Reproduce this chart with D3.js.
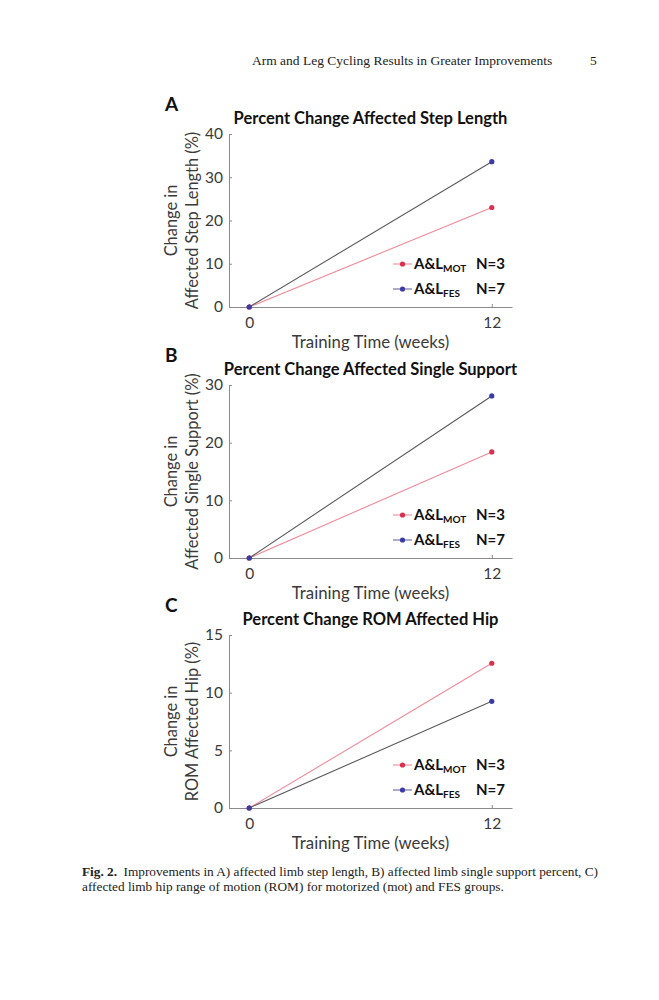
<!DOCTYPE html>
<html>
<head>
<meta charset="utf-8">
<script src="https://cdn.jsdelivr.net/npm/d3@7"></script>
<style>
    body { margin: 0; background: #fff; }
    svg { display: block; }
</style>
</head>
<body>
<div id="main"></div>
<script>
"use strict";

// data
const weeks = [0, 12];
const xTickLabels = [0, 12];
const panelLetters = ["A", "B", "C"];
const panelTitles = [
    "Percent Change Affected Step Length",
    "Percent Change Affected Single Support",
    "Percent Change ROM Affected Hip"
];
const yLabelLines = [
    ["Change in", "Affected Step Length (%)"],
    ["Change in", "Affected Single Support (%)"],
    ["Change in", "ROM Affected Hip (%)"]
];
const yMaxValues = [40, 30, 15];
const yTickValues = [
    [0, 10, 20, 30, 40],
    [0, 10, 20, 30],
    [0, 5, 10, 15]
];
const motValues = [
    [0, 23.0],
    [0, 18.4],
    [0, 12.55]
];
const fesValues = [
    [0, 33.6],
    [0, 28.1],
    [0, 9.25]
];
const legendNames = ["MOT", "FES"];
const legendCounts = ["N=3", "N=7"];

const headerText = "Arm and Leg Cycling Results in Greater Improvements";
const pageNumber = "5";
const captionBold = "Fig. 2.";
const captionLine1 = "Improvements in A) affected limb step length, B) affected limb single support percent, C)";
const captionLine2 = "affected limb hip range of motion (ROM) for motorized (mot) and FES groups.";

const params = {
    width: 659,
    height: 1000,
    axisLeft: 229,
    axisRight: 512,
    panelTops: [134, 385, 635],
    panelHeight: 173
};

const colors = {
    motLine: "#f28a9a",
    motMarker: "#d9304f",
    fesLine: "#5a5a5e",
    fesLegendLine: "#6a6a9a",
    fesMarker: "#3b3ba6",
    axis: "#8a8a8a",
    text: "#3a3a3a"
};

const sansFont = "Lato, 'Open Sans', sans-serif";
const serifFont = "'Liberation Serif', 'DejaVu Serif', serif";

const svg = d3.select("#main").append("svg")
    .attr("width", params.width)
    .attr("height", params.height);

// running header
svg.append("text")
    .attr("x", 252).attr("y", 65)
    .attr("font-family", serifFont).attr("font-size", 13.5)
    .attr("fill", "#222")
    .text(headerText);
svg.append("text")
    .attr("x", 590).attr("y", 65)
    .attr("font-family", serifFont).attr("font-size", 13.5)
    .attr("fill", "#222")
    .text(pageNumber);

function drawPanel(i) {
    const top = params.panelTops[i];
    const bottom = top + params.panelHeight;

    const x = d3.scaleLinear().domain([-1, 13]).range([params.axisLeft, params.axisRight]);
    const y = d3.scaleLinear().domain([0, yMaxValues[i]]).range([bottom, top]);

    const g = svg.append("g");

    // axes, MATLAB style: inward ticks, no box
    const xAxis = d3.axisBottom(x).tickValues(xTickLabels).tickSizeInner(-3).tickSizeOuter(0).tickPadding(10);
    const yAxis = d3.axisLeft(y).tickValues(yTickValues[i]).tickSizeInner(-3).tickSizeOuter(0).tickPadding(6);

    const gx = g.append("g").attr("transform", `translate(0,${bottom})`).call(xAxis);
    const gy = g.append("g").attr("transform", `translate(${params.axisLeft},0)`).call(yAxis);
    [gx, gy].forEach(a => {
        a.select(".domain").attr("stroke", colors.axis);
        a.selectAll(".tick line").attr("stroke", colors.axis);
        a.selectAll(".tick text")
            .attr("font-family", sansFont).attr("font-size", 15.5)
            .attr("fill", colors.text);
    });

    // panel letter and title
    g.append("text")
        .attr("x", 165).attr("y", top - 23)
        .attr("font-family", sansFont).attr("font-size", 19).attr("font-weight", "bold")
        .attr("fill", "#111")
        .text(panelLetters[i]);
    g.append("text")
        .attr("x", (params.axisLeft + params.axisRight) / 2).attr("y", top - 10)
        .attr("text-anchor", "middle")
        .attr("font-family", sansFont).attr("font-size", 16.5).attr("font-weight", "bold")
        .attr("fill", "#111")
        .text(panelTitles[i]);

    // axis labels
    g.append("text")
        .attr("x", (params.axisLeft + params.axisRight) / 2).attr("y", bottom + 41)
        .attr("text-anchor", "middle")
        .attr("font-family", sansFont).attr("font-size", 16.8)
        .attr("fill", colors.text)
        .text("Training Time (weeks)");
    const yMid = (top + bottom) / 2;
    yLabelLines[i].forEach((line, k) => {
        g.append("text")
            .attr("transform", `translate(${177 + k * 21},${yMid}) rotate(-90)`)
            .attr("text-anchor", "middle")
            .attr("font-family", sansFont).attr("font-size", 16.4)
            .attr("fill", colors.text)
            .text(line);
    });

    // series
    const series = [
        { values: motValues[i], line: colors.motLine, marker: colors.motMarker },
        { values: fesValues[i], line: colors.fesLine, marker: colors.fesMarker }
    ];
    const lineGen = d3.line().x((d, k) => x(weeks[k])).y(d => y(d));
    series.forEach(s => {
        g.append("path")
            .datum(s.values)
            .attr("d", lineGen)
            .attr("fill", "none")
            .attr("stroke", s.line)
            .attr("stroke-width", 1.1);
    });
    series.forEach(s => {
        g.selectAll(null)
            .data(s.values)
            .enter().append("circle")
            .attr("cx", (d, k) => x(weeks[k]))
            .attr("cy", d => y(d))
            .attr("r", 2.6)
            .attr("fill", s.marker);
    });

    // legend
    const legendRows = [bottom - 43, bottom - 18];
    legendNames.forEach((name, k) => {
        const ly = legendRows[k];
        const lc = k === 0 ? colors.motLine : colors.fesLegendLine;
        const mc = k === 0 ? colors.motMarker : colors.fesMarker;
        g.append("line")
            .attr("x1", 393).attr("x2", 412).attr("y1", ly).attr("y2", ly)
            .attr("stroke", lc).attr("stroke-width", 1.1);
        g.append("circle").attr("cx", 402.5).attr("cy", ly).attr("r", 2.6).attr("fill", mc);
        const t = g.append("text")
            .attr("x", 414).attr("y", ly + 5)
            .attr("font-family", sansFont).attr("font-size", 15).attr("font-weight", "bold")
            .attr("fill", "#111");
        t.append("tspan").text("A&L");
        t.append("tspan").attr("font-size", 10).attr("dy", 3).text(name);
        g.append("text")
            .attr("x", 476).attr("y", ly + 5)
            .attr("font-family", sansFont).attr("font-size", 15).attr("font-weight", "bold")
            .attr("fill", "#111")
            .text(legendCounts[k]);
    });
}

panelLetters.forEach((d, i) => drawPanel(i));

// caption
const cap1 = svg.append("text")
    .attr("x", 82).attr("y", 876)
    .attr("font-family", serifFont).attr("font-size", 13.3)
    .attr("fill", "#222")
    .attr("textLength", 516).attr("lengthAdjust", "spacing");
cap1.append("tspan").attr("font-weight", "bold").text(captionBold);
cap1.append("tspan").text("\u00a0\u00a0" + captionLine1);
svg.append("text")
    .attr("x", 82).attr("y", 891)
    .attr("font-family", serifFont).attr("font-size", 13.3)
    .attr("fill", "#222")
    .text(captionLine2);
</script>
</body>
</html>
